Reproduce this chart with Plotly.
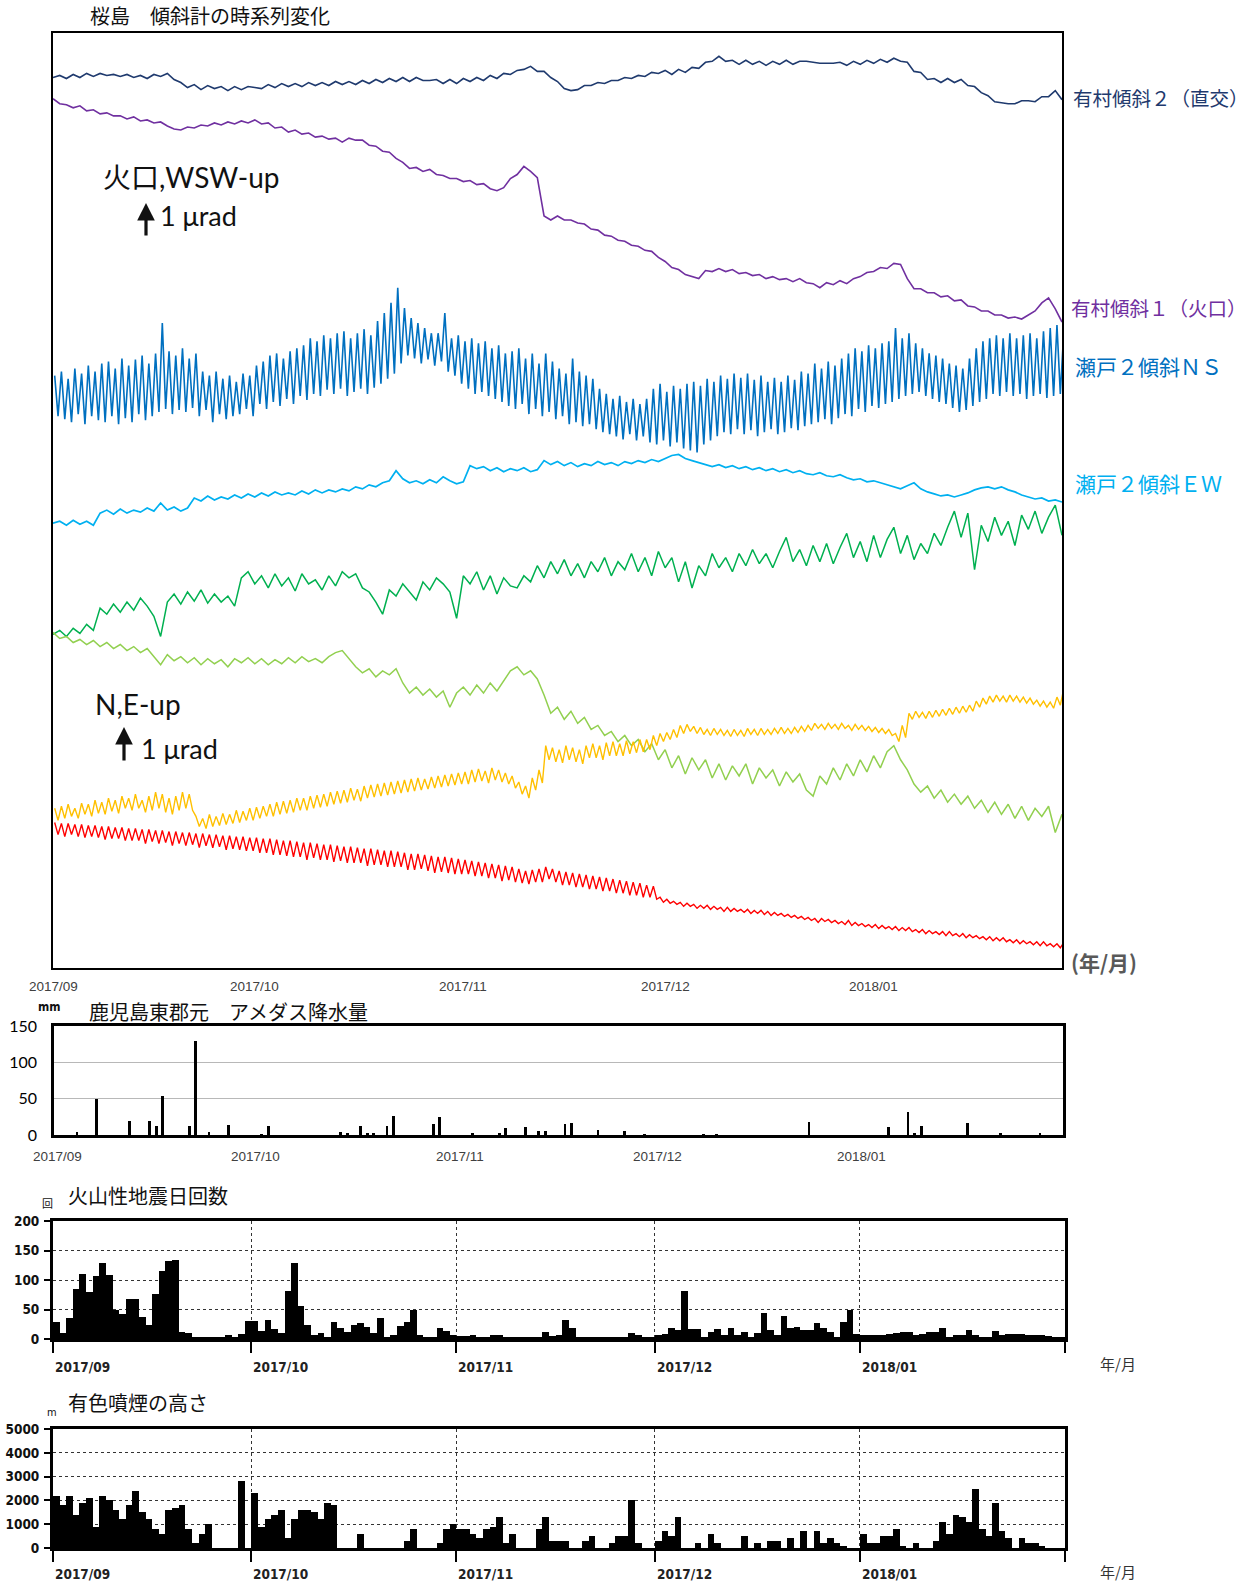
import numpy as np
import pandas as pd
import plotly.graph_objects as go

W, H = 1250, 1584
START = pd.Timestamp("2017-09-01")
DAY_MS = 86400000

# ---------------------------------------------------------------------------
# Tilt records (units of 0.01 micro-radian, relative to each record's own
# reference level).  Daily readings from 2017-09-01 onward.
# ---------------------------------------------------------------------------
ARIMURA2 = [
    23, 25, 22, 26, 23, 27, 24, 27, 25, 26,
    24, 26, 23, 25, 22, 26, 24, 27, 21, 18,
    13, 16, 11, 15, 12, 14, 10, 14, 11, 14,
    13, 12, 16, 13, 17, 14, 17, 14, 18, 15,
    18, 15, 19, 16, 19, 16, 20, 17, 21, 18,
    22, 19, 23, 19, 23, 20, 20, 21, 17, 21,
    17, 22, 19, 23, 20, 25, 22, 27, 26, 30,
    31, 34, 29, 29, 23, 19, 12, 10, 11, 15,
    15, 18, 17, 20, 20, 23, 22, 25, 24, 28,
    27, 30, 26, 31, 28, 33, 32, 38, 39, 44,
    39, 40, 36, 40, 36, 39, 35, 39, 36, 40,
    36, 39, 39, 38, 37, 37, 37, 38, 35, 39,
    36, 40, 37, 41, 38, 42, 39, 38, 29, 28,
    21, 22, 18, 22, 18, 21, 15, 14, 8, 5,
    -1, -2, -3, -3, 0, 0, -1, 4, 4, 10,
    1,
]

ARIMURA1 = [
    2, -3, -4, -7, -5, -10, -9, -13, -12, -15,
    -15, -18, -16, -20, -19, -22, -21, -25, -28, -29,
    -26, -27, -24, -25, -22, -24, -21, -23, -20, -22,
    -19, -23, -22, -27, -26, -31, -29, -33, -32, -36,
    -35, -38, -37, -41, -37, -39, -39, -44, -45, -50,
    -51, -57, -61, -67, -66, -70, -68, -73, -74, -77,
    -77, -80, -79, -83, -82, -87, -89, -86, -77, -73,
    -65, -70, -76, -114, -118, -114, -118, -118, -121, -122,
    -127, -128, -133, -134, -138, -139, -143, -144, -148, -149,
    -155, -159, -165, -167, -172, -174, -176, -168, -169, -166,
    -169, -167, -171, -170, -173, -172, -176, -174, -177, -176,
    -179, -176, -180, -181, -185, -180, -182, -178, -181, -176,
    -174, -170, -169, -165, -166, -161, -162, -176, -186, -186,
    -190, -190, -194, -193, -198, -197, -203, -204, -208, -208,
    -212, -212, -215, -214, -216, -212, -208, -200, -195, -206,
    -219,
]

# Seto-2 NS: daily peak and trough readings
SETO_NS_HIGH = [
    28, 32, 25, 35, 30, 38, 32, 40, 42, 35,
    45, 38, 44, 48, 40, 50, 80, 52, 48, 55,
    45, 50, 32, 28, 32, 25, 28, 22, 30, 28,
    38, 42, 48, 50, 45, 52, 55, 58, 65, 62,
    68, 65, 70, 72, 65, 70, 74, 68, 82, 90,
    100, 115, 95, 85, 80, 75, 70, 70, 90, 65,
    68, 62, 65, 60, 62, 55, 58, 50, 52, 55,
    45, 50, 40, 50, 42, 35, 30, 45, 32, 28,
    25, 15, 10, 5, 8, 2, 5, 0, 5, 15,
    20, 12, 18, 15, 20, 22, 18, 25, 22, 28,
    25, 30, 26, 30, 24, 28, 22, 26, 22, 28,
    24, 32, 30, 40, 35, 42, 38, 45, 50, 55,
    52, 58, 55, 60, 62, 75, 65, 70, 60, 55,
    50, 48, 45, 40, 38, 35, 45, 55, 62, 65,
    68, 65, 70, 65, 68, 70, 65, 72, 75, 78,
    70,
]
SETO_NS_LOW = [
    -12, -15, -18, -10, -20, -12, -16, -18, -12, -20,
    -14, -18, -10, -16, -12, -8, -5, -10, -6, -8,
    -4, -12, -6, -18, -10, -15, -12, -10, -5, -12,
    0, -5, 2, -2, 5, 0, 8, 4, 10, 8,
    14, 10, 15, 8, 12, 15, 10, 16, 20, 25,
    30, 40, 48, 45, 40, 44, 38, 42, 32, 28,
    20, 15, 10, 12, 8, 5, 2, -2, -5, 0,
    -10, -5, -12, -8, -15, -12, -20, -18, -22, -20,
    -25, -28, -30, -32, -35, -30, -36, -32, -38, -40,
    -36, -42, -38, -44, -46, -48, -40, -36, -32, -28,
    -30, -25, -30, -26, -32, -28, -25, -30, -28, -24,
    -26, -22, -20, -18, -15, -20, -14, -10, -12, -5,
    -8, -2, -4, 0, 2, 5, 8, 10, 12, 8,
    5, 2, 0, -4, -8, -6, -2, 2, 5, 10,
    8, 12, 8, 10, 5, 8, 10, 6, 8, 10,
    5,
]

SETO_EW = [
    -18, -16, -20, -15, -19, -16, -20, -8, -5, -9,
    -4, -8, -5, -7, -3, -6, 2, -5, -2, -6,
    -3, 7, 4, 9, 5, 8, 6, 10, 7, 11,
    8, 12, 9, 13, 10, 12, 10, 14, 11, 15,
    12, 15, 13, 16, 14, 18, 16, 20, 18, 22,
    24, 34, 26, 22, 24, 21, 25, 22, 28, 24,
    21, 23, 39, 36, 38, 34, 37, 33, 36, 34,
    37, 33, 35, 44, 40, 43, 39, 42, 38, 41,
    39, 43, 40, 42, 39, 43, 41, 44, 42, 45,
    43, 46, 49, 50, 46, 44, 42, 40, 38, 40,
    37, 39, 36, 38, 35, 37, 34, 36, 33, 35,
    32, 34, 31, 30, 32, 29, 28, 30, 27, 25,
    26, 23, 24, 22, 20, 18, 16, 19, 22, 16,
    13, 11, 9, 10, 8, 10, 12, 15, 17, 18,
    16, 18, 15, 13, 10, 8, 6, 7, 4, 5,
    3,
]

GREEN_SERIES = [
    -28, -24, -30, -22, -27, -18, -24, -2, -8, 2,
    -6, 4, -4, 8, 0, -10, -30, 4, 12, 2,
    14, 5, 16, 3, 12, 4, 10, 0, 28, 34,
    22, 30, 18, 32, 20, 28, 15, 32, 22, 26,
    16, 30, 20, 34, 28, 32, 18, 14, 4, -8,
    16, 10, 22, 14, 6, 24, 16, 28, 22, 14,
    -12, 30, 22, 34, 16, 30, 12, 28, 20, 18,
    30, 24, 40, 28, 44, 32, 46, 30, 42, 28,
    44, 34, 48, 30, 44, 36, 52, 34, 48, 30,
    54, 38, 48, 24, 44, 18, 40, 30, 52, 38,
    48, 34, 52, 40, 56, 42, 52, 38, 54, 68,
    44, 56, 40, 60, 44, 62, 42, 58, 72, 48,
    64, 44, 70, 48, 66, 78, 52, 70, 46, 62,
    52, 72, 60, 78, 94, 68, 92, 36, 80, 64,
    88, 70, 84, 60, 90, 76, 94, 72, 88, 100,
    70,
]

LIGHTGREEN_SERIES = [
    74, 68, 70, 64, 67, 62, 66, 60, 64, 58,
    62, 56, 60, 54, 58, 50, 42, 52, 46, 50,
    44, 49, 42, 48, 43, 47, 40, 48, 44, 49,
    43, 48, 42, 47, 43, 49, 44, 50, 45, 48,
    44, 50, 54, 56, 48, 40, 34, 38, 30, 36,
    32, 38, 24, 14, 20, 12, 18, 10, 16, 0,
    14, 20, 12, 22, 14, 24, 16, 26, 36, 40,
    32, 36, 28, 12, -6, 0, -12, -4, -16, -10,
    -22, -18, -28, -24, -34, -28, -38, -32, -44, -36,
    -52, -42, -60, -48, -66, -50, -62, -52, -70, -56,
    -72, -58, -68, -56, -76, -60, -70, -62, -78, -64,
    -74, -66, -82, -88, -68, -76, -60, -72, -56, -68,
    -52, -64, -48, -60, -44, -38, -52, -62, -76, -84,
    -78, -90, -82, -94, -86, -96, -88, -100, -92, -104,
    -94, -106, -96, -110, -98, -112, -100, -108, -98, -124,
    -106,
]

ORANGE_HIGH = [
    0, 2, 4, 0, 5, 4, 8, 6, 10, 8,
    12, 10, 14, 8, 12, 16, 14, 10, 12, 16,
    14, -8, -10, -6, -8, -5, -6, -2, -3, 0,
    1, 2, 4, 6, 7, 8, 10, 10, 12, 13,
    14, 16, 17, 18, 20, 19, 22, 23, 24, 25,
    26, 27, 28, 29, 30, 29, 31, 32, 33, 34,
    35, 36, 38, 39, 37, 40, 38, 35, 32, 26,
    22, 30, 38, 62, 60, 58, 62, 60, 58, 62,
    64, 62, 65, 66, 64, 67, 66, 68, 68, 72,
    74, 75, 78, 82, 83, 81, 80, 78, 79, 78,
    77, 78, 77, 79, 78, 79, 78, 79, 80, 79,
    80, 81, 82, 84, 83, 84, 83, 84, 82, 83,
    82, 81, 80, 79, 78, 74, 82, 94, 96, 95,
    96, 97, 98, 99, 100, 101, 102, 106, 109, 111,
    112, 111, 112, 111, 110, 109, 107, 106, 105, 110,
    118,
]
ORANGE_LOW = [
    -12, -10, -8, -10, -6, -8, -5, -6, -3, -5,
    0, -2, 0, -4, -2, 0, -4, -6, -2, 0,
    -2, -18, -20, -18, -17, -16, -15, -14, -12, -12,
    -10, -8, -8, -6, -5, -4, -2, -2, 0, 1,
    2, 4, 5, 6, 8, 7, 10, 11, 12, 13,
    14, 15, 16, 17, 18, 19, 20, 21, 22, 23,
    24, 24, 26, 27, 25, 28, 26, 24, 20, 14,
    10, 18, 25, 48, 46, 45, 48, 46, 44, 50,
    50, 48, 52, 52, 52, 54, 55, 56, 58, 62,
    66, 68, 70, 74, 76, 74, 73, 72, 73, 72,
    71, 72, 71, 73, 72, 73, 73, 74, 74, 74,
    75, 76, 77, 79, 78, 79, 78, 79, 77, 78,
    77, 76, 75, 74, 72, 66, 70, 88, 90, 89,
    90, 91, 92, 93, 94, 95, 96, 100, 103, 105,
    106, 105, 106, 105, 104, 103, 101, 100, 99, 102,
    110,
]

RED_HIGH = [
    86, 85, 85, 84, 84, 83, 83, 82, 82, 81,
    81, 80, 80, 79, 79, 78, 78, 77, 77, 76,
    76, 75, 75, 74, 74, 73, 73, 72, 72, 71,
    71, 70, 70, 69, 68, 68, 67, 66, 66, 65,
    64, 64, 63, 62, 62, 61, 60, 60, 59, 58,
    58, 57, 56, 55, 55, 54, 53, 52, 52, 51,
    50, 49, 48, 47, 46, 45, 44, 43, 42, 40,
    38, 39, 40, 42, 40, 38, 37, 36, 35, 34,
    33, 32, 31, 30, 29, 28, 27, 26, 24, 23,
    12, 10, 8, 7, 6, 5, 4, 4, 3, 2,
    2, 1, 0, 0, -1, -1, -2, -3, -4, -5,
    -6, -7, -8, -9, -9, -10, -11, -12, -11, -13,
    -14, -15, -15, -16, -17, -17, -18, -18, -20, -20,
    -21, -22, -22, -22, -24, -24, -25, -26, -27, -27,
    -28, -28, -30, -30, -31, -32, -32, -32, -34, -34,
    -33,
]
RED_LOW = [
    74, 72, 74, 72, 71, 72, 71, 69, 70, 70,
    68, 68, 68, 65, 67, 65, 66, 63, 65, 63,
    64, 61, 63, 61, 62, 59, 60, 59, 58, 58,
    56, 56, 54, 54, 53, 52, 52, 49, 51, 49,
    49, 47, 48, 46, 46, 46, 43, 44, 44, 42,
    42, 42, 39, 39, 40, 38, 36, 37, 36, 35,
    35, 35, 33, 33, 31, 31, 28, 29, 27, 26,
    25, 27, 27, 30, 27, 24, 24, 22, 22, 20,
    20, 18, 18, 16, 16, 14, 14, 12, 12, 10,
    7, 6, 5, 3, 3, 1, 1, 0, 0, -2,
    -2, -2, -3, -4, -4, -5, -6, -6, -7, -8,
    -9, -10, -11, -13, -12, -13, -14, -15, -16, -16,
    -17, -18, -19, -19, -20, -21, -21, -22, -23, -24,
    -24, -25, -26, -26, -27, -28, -28, -29, -30, -31,
    -31, -32, -33, -34, -34, -35, -36, -36, -37, -38,
    -36,
]

# ---------------------------------------------------------------------------
# Daily observations 2017-09-01 .. 2018-01-31
# ---------------------------------------------------------------------------
RAIN_DATES = [
    "2017-09-04", "2017-09-07", "2017-09-12", "2017-09-15", "2017-09-16",
    "2017-09-17", "2017-09-21", "2017-09-22", "2017-09-24", "2017-09-27",
    "2017-10-02", "2017-10-03", "2017-10-14", "2017-10-15", "2017-10-17",
    "2017-10-18", "2017-10-19", "2017-10-21", "2017-10-22", "2017-10-28",
    "2017-10-29", "2017-11-03", "2017-11-07", "2017-11-08", "2017-11-11",
    "2017-11-13", "2017-11-14", "2017-11-17", "2017-11-18", "2017-11-22",
    "2017-11-26", "2017-11-29", "2017-12-08", "2017-12-10", "2017-12-24",
    "2018-01-05", "2018-01-08", "2018-01-09", "2018-01-10", "2018-01-17",
    "2018-01-22", "2018-01-28",
]
RAIN_MM = [
    4, 49, 19, 19, 12, 54, 13, 130, 4, 14,
    1, 13, 4, 2, 13, 3, 2, 12, 26, 15,
    25, 3, 3, 9, 11, 6, 6, 15, 17, 7,
    6, 1, 1, 1, 18, 11, 31, 3, 12, 17,
    3, 2,
]

QUAKES = [
    # September
    29, 11, 35, 84, 110, 80, 106, 128, 109, 50, 43, 68, 68, 38, 23,
    77, 115, 132, 134, 12, 10, 3, 4, 2, 2, 2, 6, 2, 8, 30,
    # October
    30, 13, 32, 17, 10, 82, 129, 56, 24, 7, 11, 3, 28, 18, 12, 24,
    27, 21, 10, 35, 2, 7, 22, 28, 49, 7, 4, 4, 18, 13, 7,
    # November
    5, 5, 6, 2, 2, 6, 6, 2, 2, 2, 3, 2, 2, 12, 5,
    7, 32, 18, 2, 2, 2, 3, 2, 3, 3, 3, 11, 7, 3, 2,
    # December
    7, 8, 18, 16, 81, 17, 17, 4, 12, 17, 6, 18, 7, 12, 4, 10,
    44, 16, 6, 39, 19, 20, 15, 16, 27, 18, 12, 4, 29, 49, 8,
    # January
    7, 6, 6, 7, 8, 11, 12, 12, 7, 8, 12, 12, 18, 3, 7, 7,
    16, 7, 4, 4, 13, 6, 8, 8, 9, 6, 7, 6, 5, 4, 3,
]

PLUME_M = [
    # September
    2200, 1800, 2200, 1400, 1900, 2100, 900, 2200, 2000, 1600,
    1200, 1800, 2400, 1500, 1200, 800, 600, 1600, 1700, 1800,
    800, 200, 600, 1000, 0, 0, 0, 0, 2800, 0,
    # October
    2300, 900, 1200, 1400, 1600, 400, 1200, 1600, 1600, 1500,
    1200, 1900, 1800, 0, 0, 0, 600, 0, 0, 0,
    0, 0, 0, 300, 800, 0, 0, 0, 200, 800, 1000,
    # November
    800, 800, 600, 400, 800, 900, 1300, 200, 600, 0,
    0, 0, 800, 1300, 300, 300, 300, 0, 0, 300,
    500, 0, 0, 200, 500, 500, 2000, 200, 0, 0,
    # December
    300, 700, 500, 1300, 0, 0, 200, 0, 600, 200,
    0, 0, 0, 500, 0, 200, 0, 300, 300, 0,
    400, 0, 700, 0, 700, 200, 400, 200, 100, 0, 0,
    # January
    600, 200, 200, 500, 500, 800, 100, 0, 200, 0,
    0, 300, 1100, 600, 1400, 1300, 1100, 2500, 800, 500,
    1900, 700, 400, 0, 400, 200, 200, 100, 0, 0, 0,
]

MONTH_STARTS = ["2017-09-01", "2017-10-01", "2017-11-01", "2017-12-01", "2018-01-01"]
MONTH_LABELS = ["2017/09", "2017/10", "2017/11", "2017/12", "2018/01"]

# ---------------------------------------------------------------------------
# Styling / placement
# ---------------------------------------------------------------------------
JP = "Noto Sans CJK JP"
LATIN = "Lato, Noto Sans CJK JP"
NARROW = "Liberation Sans Narrow, DejaVu Sans Condensed, Arial Narrow, sans-serif"
PLAIN = "Liberation Sans, Arial, sans-serif"

# (record, colour, vertical placement of the record's reference level)
TILT_STYLE = {
    "arimura2": ("#1f3a6e", 858),
    "arimura1": ("#7030a0", 858),
    "seto_ns": ("#0070c0", 558),
    "seto_ew": ("#00b0f0", 458),
    "green": ("#00b050", 358),
    "lightgreen": ("#92d050", 258),
    "orange": ("#ffc000", 158),
    "red": ("#ff0000", 58),
}


def px_x(p):
    return p / W


def px_y(p):
    return 1 - p / H


def daily_x(n):
    return [START + pd.Timedelta(days=i) for i in range(n)]


def peak_trough_xy(highs, lows):
    xs, ys = [], []
    for i, (hv, lv) in enumerate(zip(highs, lows)):
        xs.append(START + pd.Timedelta(hours=24 * i + 6))
        ys.append(hv)
        xs.append(START + pd.Timedelta(hours=24 * i + 18))
        ys.append(lv)
    return xs, ys


fig = go.Figure()


def add_tilt(key, xs, vals, width=1.5):
    colour, base = TILT_STYLE[key]
    fig.add_trace(go.Scatter(
        x=xs, y=[base + v for v in vals], mode="lines",
        line=dict(color=colour, width=width), xaxis="x", yaxis="y",
        hoverinfo="skip"))


add_tilt("arimura2", daily_x(len(ARIMURA2)), ARIMURA2, 1.6)
add_tilt("arimura1", daily_x(len(ARIMURA1)), ARIMURA1, 1.6)
add_tilt("seto_ns", *peak_trough_xy(SETO_NS_HIGH, SETO_NS_LOW), width=1.6)
add_tilt("seto_ew", daily_x(len(SETO_EW)), SETO_EW, 1.7)
add_tilt("green", daily_x(len(GREEN_SERIES)), GREEN_SERIES, 1.5)
add_tilt("lightgreen", daily_x(len(LIGHTGREEN_SERIES)), LIGHTGREEN_SERIES, 1.5)
add_tilt("orange", *peak_trough_xy(ORANGE_HIGH, ORANGE_LOW), width=1.4)
add_tilt("red", *peak_trough_xy(RED_HIGH, RED_LOW), width=1.4)

# rainfall bars
rain_x = [pd.Timestamp(d) + pd.Timedelta(hours=12) for d in RAIN_DATES]
fig.add_trace(go.Bar(x=rain_x, y=RAIN_MM, width=0.42 * DAY_MS,
                     marker=dict(color="black", line=dict(width=0)),
                     xaxis="x2", yaxis="y2", hoverinfo="skip"))

days = pd.date_range("2017-09-01", "2018-01-31", freq="D")
day_mid = [d + pd.Timedelta(hours=12) for d in days]
fig.add_trace(go.Bar(x=day_mid, y=QUAKES, width=DAY_MS,
                     marker=dict(color="black", line=dict(width=0)),
                     xaxis="x3", yaxis="y3", hoverinfo="skip"))
fig.add_trace(go.Bar(x=day_mid, y=PLUME_M, width=DAY_MS,
                     marker=dict(color="black", line=dict(width=0)),
                     xaxis="x4", yaxis="y4", hoverinfo="skip"))

tilt_end = START + pd.Timedelta(days=150)
full_end = pd.Timestamp("2018-02-01")

frame = dict(showline=True, mirror=True, linecolor="black", zeroline=False,
             automargin=False)

layout = dict(
    width=W, height=H,
    margin=dict(l=0, r=0, t=0, b=0, pad=0, autoexpand=False),
    paper_bgcolor="white", plot_bgcolor="white", showlegend=False,
    bargap=0,
    xaxis=dict(domain=[px_x(53), px_x(1062)], range=[START, tilt_end],
               showgrid=False, showticklabels=False, ticks="", linewidth=2,
               anchor="y", **frame),
    yaxis=dict(domain=[px_y(968), px_y(33)], range=[0, 925], showgrid=False,
               showticklabels=False, ticks="", linewidth=2, anchor="x", **frame),
    xaxis2=dict(domain=[px_x(54), px_x(1063)], range=[START, full_end],
                showgrid=False, showticklabels=False, ticks="", linewidth=2.5,
                anchor="y2", **frame),
    yaxis2=dict(domain=[px_y(1135), px_y(1026)], range=[0, 150],
                tickvals=[0, 50, 100, 150], showgrid=True, gridcolor="#b8b8b8",
                gridwidth=1, ticks="", ticklabelstandoff=11,
                tickfont=dict(family=LATIN, size=16, color="black"),
                linewidth=2.5, anchor="x2", **frame),
)

for ax_x, ax_y, top, bottom, ymax, ystep in (
        ("xaxis3", "yaxis3", 1221, 1339, 200, 50),
        ("xaxis4", "yaxis4", 1429, 1548, 5000, 1000)):
    xn = ax_x.replace("axis", "")
    yn = ax_y.replace("axis", "")
    layout[ax_x] = dict(
        domain=[px_x(53), px_x(1065)], range=[START, full_end],
        tickvals=MONTH_STARTS + ["2018-02-01"], showticklabels=False,
        ticks="outside", ticklen=11, tickwidth=1.5, tickcolor="black",
        showgrid=True, griddash="dot", gridcolor="#333333", gridwidth=1,
        linewidth=3, anchor=yn, **frame)
    layout[ax_y] = dict(
        domain=[px_y(bottom), px_y(top)], range=[0, ymax],
        tickvals=list(range(0, ymax + 1, ystep)), ticks="outside", ticklen=6,
        tickwidth=1.5, tickcolor="black", showgrid=True, griddash="dot",
        gridcolor="#333333", gridwidth=1, ticklabelstandoff=2,
        tickfont=dict(family=NARROW, size=13.5, color="#111", weight="bold"),
        linewidth=3, anchor=xn, **frame)

fig.update_layout(**layout)

ann = []


def text(x, y, s, size, color="#111", family=JP, xanchor="left", weight="normal",
         xref="paper"):
    ann.append(dict(x=x, y=y, xref=xref, yref="paper", text=s, showarrow=False,
                    xanchor=xanchor, yanchor="middle",
                    font=dict(family=family, size=size, color=color, weight=weight)))


def up_arrow(xp, y_head, y_tail):
    ann.append(dict(x=px_x(xp), y=px_y(y_head), xref="paper", yref="paper",
                    ax=0, ay=y_tail - y_head, text="", showarrow=True,
                    arrowhead=2, arrowsize=1.1, arrowwidth=3.2,
                    arrowcolor="#111", standoff=0))


# tilt panel texts
text(px_x(88), px_y(16), "桜島　傾斜計の時系列変化", 20)
text(px_x(101), px_y(177), "火口,WSW-up", 28, family=LATIN)
up_arrow(146, 203, 237)
text(px_x(158), px_y(216), "1 μrad", 27, family=LATIN)
text(px_x(93), px_y(704), "N,E-up", 28, family=LATIN)
up_arrow(124, 727, 762)
text(px_x(139), px_y(748), "1 μrad", 27, family=LATIN)

text(px_x(1071), px_y(98), "有村傾斜２（直交）", 19.5, color=TILT_STYLE["arimura2"][0])
text(px_x(1069), px_y(308), "有村傾斜１（火口）", 19.5, color=TILT_STYLE["arimura1"][0])
text(px_x(1073), px_y(366), "瀬戸２傾斜ＮＳ", 21, color=TILT_STYLE["seto_ns"][0])
text(px_x(1073), px_y(483), "瀬戸２傾斜ＥＷ", 21, color=TILT_STYLE["seto_ew"][0])
text(px_x(1069), px_y(962), "(年/月)", 21, color="#595959", weight="bold")

for d, lab in zip(MONTH_STARTS, MONTH_LABELS):
    text(d, px_y(987), lab, 13.5, color="#404040", family=PLAIN, xanchor="center",
         xref="x")

# rainfall panel texts
text(px_x(36), px_y(1007), "mm", 12, family=NARROW, weight="bold")
text(px_x(87), px_y(1012), "鹿児島東郡元　アメダス降水量", 20)
for d, lab in zip(MONTH_STARTS, MONTH_LABELS):
    text(pd.Timestamp(d) + pd.Timedelta(hours=12), px_y(1156), lab, 13.5,
         color="#404040", family=PLAIN, xanchor="center", xref="x2")

# volcanic earthquake panel texts
text(px_x(40), px_y(1203), "回", 11)
text(px_x(66), px_y(1195), "火山性地震日回数", 20)
for d, lab in zip(MONTH_STARTS, MONTH_LABELS):
    text(d, px_y(1367), lab, 13.5, color="#222", family=NARROW, weight="bold",
         xref="x3")
text(px_x(1098), px_y(1363), "年/月", 15, color="#333")

# plume height panel texts
text(px_x(45), px_y(1412), "m", 11, family=NARROW)
text(px_x(66), px_y(1402), "有色噴煙の高さ", 20)
for d, lab in zip(MONTH_STARTS, MONTH_LABELS):
    text(d, px_y(1574), lab, 13.5, color="#222", family=NARROW, weight="bold",
         xref="x4")
text(px_x(1098), px_y(1571), "年/月", 15, color="#333")

fig.update_layout(annotations=ann)
fig.write_html("out.html")
